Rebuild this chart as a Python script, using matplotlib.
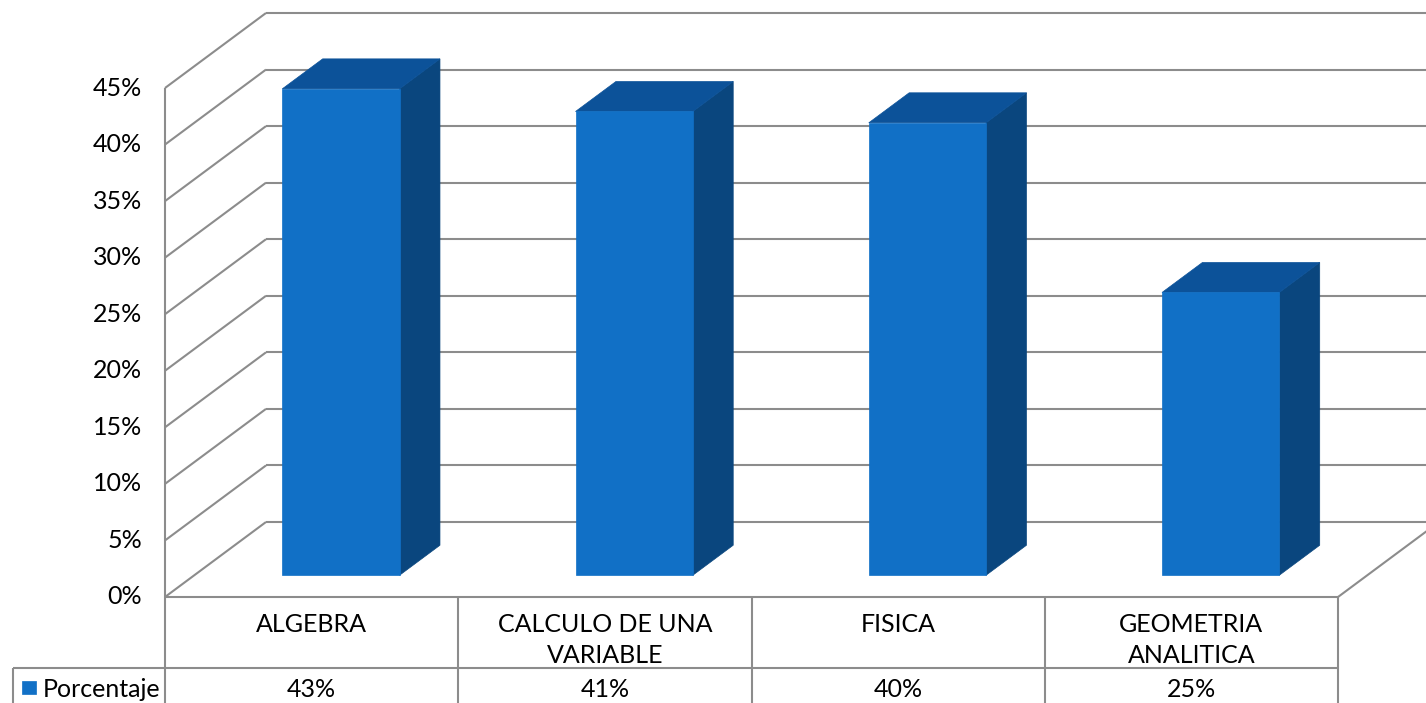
import numpy as np
import matplotlib
matplotlib.use("Agg")
import matplotlib.pyplot as plt
from matplotlib.patches import Polygon
from matplotlib.lines import Line2D
from matplotlib.transforms import IdentityTransform

# ---------------- data ----------------
categories = ["ALGEBRA", "CALCULO DE UNA\nVARIABLE", "FISICA", "GEOMETRIA\nANALITICA"]
values = [43, 41, 40, 25]
value_labels = ["43%", "41%", "40%", "25%"]
series_name = "Porcentaje"
yticks = [0, 5, 10, 15, 20, 25, 30, 35, 40, 45]
ytick_labels = ["0%", "5%", "10%", "15%", "20%", "25%", "30%", "35%", "40%", "45%"]

# ---------------- style ----------------
plt.rcParams['font.family'] = ['Lato', 'DejaVu Sans']
FS = 18
GRID = "#8c8c8c"
LW = 1.5
FRONT = "#1170c6"
TOP = "#0c5299"
SIDE = "#0a467e"

W, H = 1426, 703
fig = plt.figure(figsize=(W / 100, H / 100), dpi=100)
ax = fig.add_axes([165 / W, (H - 597) / H, (1338 - 165) / W, (597 - 88) / H])
ax.set_xlim(0, len(categories))
ax.set_ylim(0, 45)
ax.axis("off")

DEPTH = np.array([101.0, 75.0])   # oblique depth offset in pixels
F0, F1 = 0.29, 0.69               # bar depth range
BW = 0.4                          # bar width (fraction of category)
ID = IdentityTransform()


def P(x, v, f=0.0):
    return ax.transData.transform((x, v)) + f * DEPTH


def line(p, q, z=1, **kw):
    fig.add_artist(Line2D([p[0], q[0]], [p[1], q[1]], color=GRID, lw=LW,
                          transform=ID, zorder=z, solid_capstyle="butt", **kw))


n = len(categories)
# back wall + left wall gridlines
for t in yticks:
    line(P(0, t, 1), P(n, t, 1))
    line(P(0, t, 0), P(0, t, 1))
# left front vertical edge
line(P(0, 0, 0), P(0, yticks[-1], 0))
# floor right edge
line(P(n, 0, 0), P(n, 0, 1))

# bars
for i, v in enumerate(values):
    x0 = i + 0.5 - BW / 2
    x1 = i + 0.5 + BW / 2
    side = [P(x1, 0, F0), P(x1, v, F0), P(x1, v, F1), P(x1, 0, F1)]
    top = [P(x0, v, F0), P(x1, v, F0), P(x1, v, F1), P(x0, v, F1)]
    front = [P(x0, 0, F0), P(x1, 0, F0), P(x1, v, F0), P(x0, v, F0)]
    for poly, c in ((side, SIDE), (top, TOP), (front, FRONT)):
        fig.add_artist(Polygon(poly, closed=True, facecolor=c, edgecolor=c,
                               lw=0.5, transform=ID, zorder=3))

# y tick labels
for t, lab in zip(yticks, ytick_labels):
    p = P(0, t, 0)
    fig.text(p[0] - 23, p[1], lab, transform=ID, ha="right", va="center",
             fontsize=FS, color="black")

# data table
ROW1 = 71
ytop = P(0, 0, 0)[1]
yrow = ytop - ROW1
ybot = 0
line(P(0, 0, 0), P(n, 0, 0), z=2)
line((13, yrow), P(n, 0, 0) - np.array([0, ROW1]), z=2)
for k in range(n + 1):
    xk = P(k, 0, 0)[0]
    line((xk, ytop), (xk, ybot), z=2)
line((13, yrow), (13, ybot), z=2)

for i, (cat, vl) in enumerate(zip(categories, value_labels)):
    xc = P(i + 0.5, 0, 0)[0]
    for j, part in enumerate(cat.split("\n")):
        fig.text(xc, ytop - 35 - 31 * j, part, transform=ID, ha="center",
                 va="baseline", fontsize=FS, color="black")
    fig.text(xc, yrow - 29, vl, transform=ID, ha="center", va="baseline",
             fontsize=FS, color="black")

# legend key
fig.add_artist(Polygon([(22, H - 694), (36, H - 694), (36, H - 681), (22, H - 681)],
                       closed=True, facecolor=FRONT, edgecolor=FRONT, lw=0.5,
                       transform=ID, zorder=3))
fig.text(43, yrow - 29, series_name, transform=ID, ha="left", va="baseline",
         fontsize=FS, color="black")

fig.savefig("out.png", dpi=100)
